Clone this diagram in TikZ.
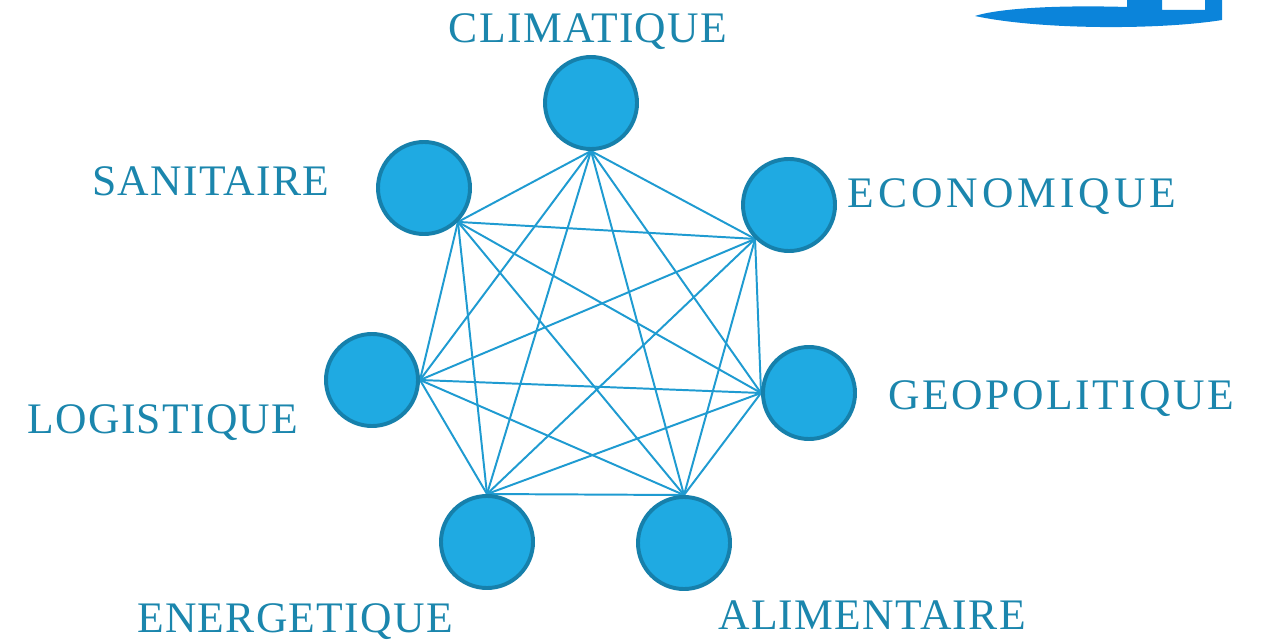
\documentclass[tikz,border=0pt]{standalone}
\usepackage{fontspec}
\setmainfont{Liberation Serif}
\usepackage{tikz}
\usetikzlibrary{backgrounds}
\definecolor{riskFill}{HTML}{1FAAE2}
\definecolor{riskEdge}{HTML}{1680AB}
\definecolor{riskLink}{HTML}{1F9BD1}
\definecolor{riskText}{HTML}{1B86AD}
\definecolor{iconBlue}{HTML}{0B84DA}

\begin{document}
\begin{tikzpicture}[
  x=0.025cm, y=-0.025cm,
  risk/.style={circle, draw=riskEdge, line width=2.8pt, fill=riskFill,
               minimum size=2.3cm, inner sep=0pt},
  label/.style={anchor=base, text=riskText, inner sep=0pt,
                font=\fontsize{31}{36}\selectfont\addfontfeature{LetterSpace=3}},
  widelabel/.style={label, font=\fontsize{31}{36}\selectfont\addfontfeature{LetterSpace=9}},
  link/.style={draw=riskLink, line width=1.4pt}
]
\useasboundingbox (0,0) rectangle (1261,642);

% cut icon top right
\fill[iconBlue] (975,16) .. controls (1040,30) and (1160,30) .. (1222,20)
  -- (1222,0) -- (1205,0) -- (1205,10) -- (1162,10) -- (1162,0) -- (1127,0)
  -- (1127,7) .. controls (1060,5) and (1000,8) .. (975,16) -- cycle;

\node[risk] (clim) at (591,103) {};
\node[risk] (eco)  at (789,205) {};
\node[risk] (geo)  at (809,393) {};
\node[risk] (alim) at (684,543) {};
\node[risk] (ener) at (487,542) {};
\node[risk] (logi) at (372,380) {};
\node[risk] (sani) at (424,188) {};

\node[label] (climText) at (588,43) {CLIMATIQUE};
\node[widelabel] (ecoText) at (1012,208) {ECONOMIQUE};
\node[label, font=\fontsize{31}{36}\selectfont\addfontfeature{LetterSpace=6}] (geoText) at (1061,409) {GEOPOLITIQUE};
\node[label] (alimText) at (872,629) {ALIMENTAIRE};
\node[label] (enerText) at (295,632) {ENERGETIQUE};
\node[label] (logiText) at (163,433) {LOGISTIQUE};
\node[label] (saniText) at (211,196) {SANITAIRE};

\begin{scope}[on background layer]
\draw[link] (clim.south) -- (eco.-135);
\draw[link] (clim.south) -- (geo.west);
\draw[link] (clim.south) -- (alim.north);
\draw[link] (clim.south) -- (ener.north);
\draw[link] (clim.south) -- (logi.east);
\draw[link] (clim.south) -- (sani.-45);
\draw[link] (eco.-135) -- (geo.west);
\draw[link] (eco.-135) -- (alim.north);
\draw[link] (eco.-135) -- (ener.north);
\draw[link] (eco.-135) -- (logi.east);
\draw[link] (eco.-135) -- (sani.-45);
\draw[link] (geo.west) -- (alim.north);
\draw[link] (geo.west) -- (ener.north);
\draw[link] (geo.west) -- (logi.east);
\draw[link] (geo.west) -- (sani.-45);
\draw[link] (alim.north) -- (ener.north);
\draw[link] (alim.north) -- (logi.east);
\draw[link] (alim.north) -- (sani.-45);
\draw[link] (ener.north) -- (logi.east);
\draw[link] (ener.north) -- (sani.-45);
\draw[link] (logi.east) -- (sani.-45);
\end{scope}

\end{tikzpicture}
\end{document}
